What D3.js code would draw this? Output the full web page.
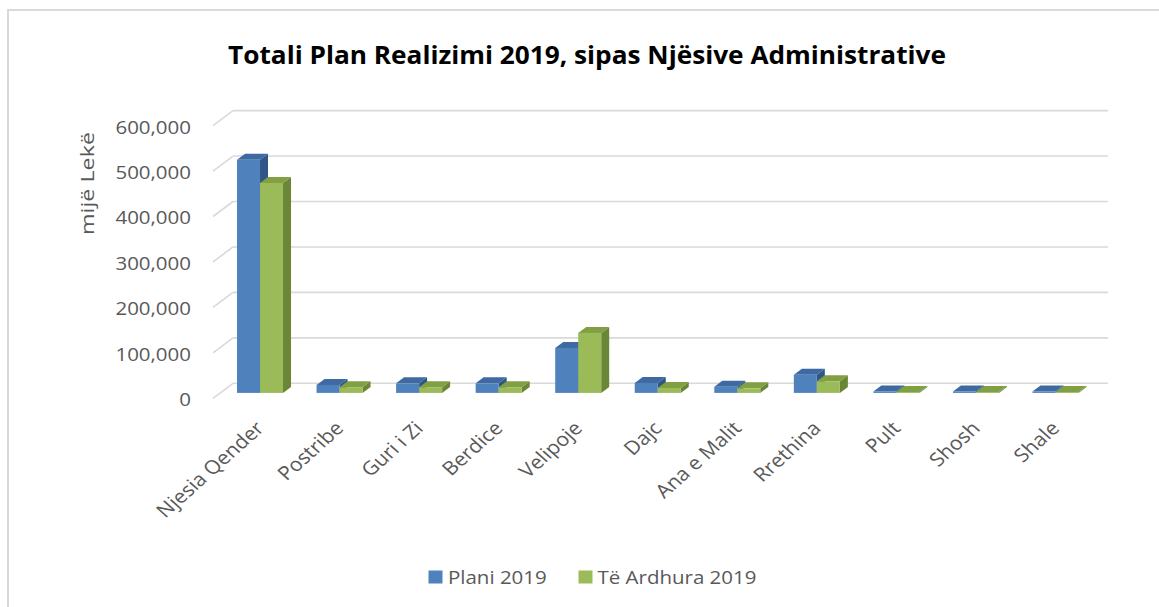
<!DOCTYPE html>
<html>
<head>
<meta charset="utf-8">
<script src="https://cdn.jsdelivr.net/npm/d3@7"></script>
<style>
  html, body { margin: 0; padding: 0; background: #fff; }
  svg { display: block; }
  text { font-family: "Open Sans", sans-serif; }
</style>
</head>
<body>
<svg id="chart" width="1159" height="607"></svg>
<script>
// ---- data ----
const categories = ["Njesia Qender", "Postribe", "Guri i Zi", "Berdice", "Velipoje", "Dajc", "Ana e Malit", "Rrethina", "Pult", "Shosh", "Shale"];
const seriesNames = ["Plani 2019", "Të Ardhura 2019"];
const plani2019 = [513000, 17600, 21000, 21000, 99000, 22000, 13500, 40000, 3000, 3000, 3000];
const teArdhura2019 = [462000, 12500, 12500, 12500, 132000, 11000, 10000, 25600, 2000, 2000, 2000];
const yTicks = [0, 100000, 200000, 300000, 400000, 500000, 600000];
const titleText = "Totali Plan Realizimi 2019, sipas Njësive Administrative";
const yAxisTitle = "mijë Lekë";

// ---- styles ----
const colors = {
  "Plani 2019": { front: "#4f81bd", top: "#3e6aa1", side: "#2f5686" },
  "Të Ardhura 2019": { front: "#9bbb59", top: "#80a043", side: "#6a8636" }
};
const textColor = "#595959";
const gridColor = "#d9d9d9";
const STRETCH = 1.12;

const svg = d3.select("#chart");

// chart border
svg.append("rect").attr("x", 8).attr("y", 10).attr("width", 1300).attr("height", 800)
  .attr("fill", "#fff").attr("stroke", gridColor).attr("stroke-width", 2);

// ---- scales (back wall) ----
const wallLeft = 233, wallRight = 1108;
const y = d3.scaleLinear().domain([0, 600000]).range([383.3, 110.6]);
const x0 = d3.scaleBand().domain(categories).range([wallLeft, wallRight]).padding(0);
const x1 = d3.scaleBand().domain(seriesNames).range([0, x0.step()]).paddingInner(0).paddingOuter(0.729);

// depth offsets
const floorFront = { dx: -20, dy: 15 };
const barFront = { dx: -12.75, dy: 9.6 };
const barBack = { dx: -4.75, dy: 3.6 };

// ---- gridlines ----
const grid = svg.append("g");
yTicks.forEach(t => {
  const yy = y(t);
  grid.append("line").attr("x1", wallLeft).attr("x2", wallRight).attr("y1", yy).attr("y2", yy)
    .attr("stroke", gridColor).attr("stroke-width", 1.6);
  grid.append("line").attr("x1", wallLeft).attr("x2", wallLeft + floorFront.dx)
    .attr("y1", yy).attr("y2", yy + floorFront.dy)
    .attr("stroke", gridColor).attr("stroke-width", 1.6);
});

// ---- y tick labels ----
const fmt = d3.format(",");
yTicks.forEach(t => {
  svg.append("g").attr("transform", `translate(191,${y(t) + floorFront.dy + 1.5}) scale(${STRETCH},1)`)
    .append("text").attr("text-anchor", "end").attr("dy", "0.35em")
    .attr("font-size", 18.3).attr("fill", textColor).text(fmt(t));
});

// ---- y axis title ----
svg.append("text").attr("transform", "translate(94,183.5) rotate(-90)")
  .attr("text-anchor", "middle").attr("font-size", 18.5).attr("fill", textColor)
  .attr("textLength", 103).attr("lengthAdjust", "spacingAndGlyphs")
  .text(yAxisTitle);

// ---- bars ----
const data = categories.map((c, i) => ({
  cat: c,
  vals: [{ s: seriesNames[0], v: plani2019[i] }, { s: seriesNames[1], v: teArdhura2019[i] }]
}));
const bars = svg.append("g");
data.forEach(d => {
  d.vals.forEach(b => {
    const xb = x0(d.cat) + x1(b.s);
    const w = x1.bandwidth();
    const yt = y(b.v), y0 = y(0);
    const c = colors[b.s];
    const g = bars.append("g");
    g.append("polygon").attr("fill", c.side).attr("points", [
      [xb + barFront.dx + w, yt + barFront.dy],
      [xb + barBack.dx + w, yt + barBack.dy],
      [xb + barBack.dx + w, y0 + barBack.dy],
      [xb + barFront.dx + w, y0 + barFront.dy]
    ].map(p => p.join(",")).join(" "));
    g.append("polygon").attr("fill", c.top).attr("points", [
      [xb + barFront.dx, yt + barFront.dy],
      [xb + barFront.dx + w, yt + barFront.dy],
      [xb + barBack.dx + w, yt + barBack.dy],
      [xb + barBack.dx, yt + barBack.dy]
    ].map(p => p.join(",")).join(" "));
    g.append("rect").attr("fill", c.front)
      .attr("x", xb + barFront.dx).attr("y", yt + barFront.dy)
      .attr("width", w).attr("height", Math.max(0, y0 - yt));
  });
});

// ---- category labels ----
categories.forEach(c => {
  const cx = x0(c) + x0.step() / 2 + floorFront.dx + 12.5;
  svg.append("g").attr("transform", `translate(${cx},429.5) scale(${STRETCH},1) rotate(-45)`)
    .append("text").attr("text-anchor", "end").attr("font-size", 19)
    .attr("fill", textColor).text(c);
});

// ---- title ----
svg.append("text").attr("x", 587).attr("y", 64).attr("text-anchor", "middle")
  .attr("font-size", 25).attr("font-weight", "bold").attr("fill", "#000")
  .attr("textLength", 718).attr("lengthAdjust", "spacingAndGlyphs")
  .text(titleText);

// ---- legend ----
const legendItems = [
  { s: seriesNames[0], sx: 428.5, tx: 448 },
  { s: seriesNames[1], sx: 578.5, tx: 597.5 }
];
legendItems.forEach(l => {
  svg.append("rect").attr("x", l.sx).attr("y", 570.5).attr("width", 14).attr("height", 13)
    .attr("fill", colors[l.s].front);
  svg.append("g").attr("transform", `translate(${l.tx},584.3) scale(${STRETCH},1)`)
    .append("text").attr("font-size", 18.3).attr("fill", textColor).text(l.s);
});
</script>
</body>
</html>
